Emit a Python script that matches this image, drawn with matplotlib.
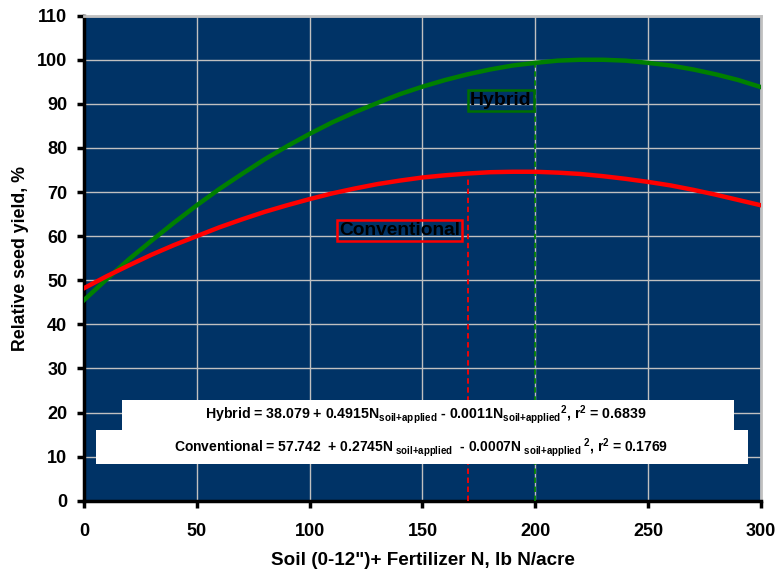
import matplotlib
matplotlib.use("Agg")
import matplotlib.pyplot as plt
from matplotlib.patches import Rectangle

plt.rcParams['font.family'] = ['Liberation Sans', 'DejaVu Sans']
plt.rcParams['font.weight'] = 'bold'
plt.rcParams['mathtext.fontset'] = 'custom'
plt.rcParams['mathtext.rm'] = 'Liberation Sans:bold'
plt.rcParams['mathtext.it'] = 'Liberation Sans:bold'
plt.rcParams['mathtext.bf'] = 'Liberation Sans:bold'
plt.rcParams['mathtext.default'] = 'rm'

# N rate (lb N/acre) and relative yield
nRate = [0, 10, 20, 30, 40, 50, 60, 70, 80, 90, 100, 110, 120, 130, 140, 150,
         160, 170, 180, 190, 200, 210, 220, 230, 240, 250, 260, 270, 280, 290, 300]
hybridYield = [45.5, 50.2, 54.8, 59.0, 63.1, 67.0, 70.7, 74.1, 77.4, 80.4, 83.2,
               85.8, 88.1, 90.2, 92.2, 93.9, 95.4, 96.7, 97.8, 98.7, 99.3, 99.8,
               100.0, 100.0, 99.8, 99.3, 98.7, 97.8, 96.7, 95.4, 93.8]
conventionalYield = [48.2, 50.9, 53.4, 55.8, 58.0, 60.0, 62.0, 63.8, 65.5, 67.0,
                     68.4, 69.7, 70.8, 71.8, 72.6, 73.3, 73.8, 74.2, 74.5, 74.6,
                     74.6, 74.4, 74.1, 73.6, 73.0, 72.3, 71.5, 70.5, 69.4, 68.2, 67.0]

# optimum N rates marked with dashed lines
hybridOptN, hybridOptY = 200, 99.3
convOptN, convOptY = 170, 73

hybridEq = (r"Hybrid = 38.079 + 0.4915N$_{soil{+}applied}$ - 0.0011N$_{soil{+}applied}{}^{2}$"
            r", r$^{2}$ = 0.6839")
convEq = (r"Conventional = 57.742  + 0.2745N$_{\ soil{+}applied}$  - 0.0007N$_{\ soil{+}applied}{}^{\ 2}$"
          r", r$^{2}$ = 0.1769")

fig = plt.figure(figsize=(7.78, 5.74), dpi=100)
ax = fig.add_axes([0.108, 0.1277, 0.870, 0.845])
ax.set_facecolor('#003366')

ax.plot(nRate, hybridYield, color='#008000', lw=3.2, zorder=4)
ax.plot(nRate, conventionalYield, color='#ff0000', lw=3.2, zorder=4)
ax.plot([hybridOptN, hybridOptN], [0, hybridOptY], color='#008000', lw=1.3,
        dashes=(3, 2), zorder=3)
ax.plot([convOptN, convOptN], [0, convOptY], color='#ff0000', lw=1.3,
        dashes=(3, 2), zorder=3)

ax.set_xlim(0, 300)
ax.set_ylim(0, 110)
ax.set_xticks(range(0, 301, 50))
ax.set_yticks(range(0, 111, 10))
ax.grid(True, color='#c0c0c0', lw=1.0, zorder=1)
ax.set_axisbelow(True)

for s in ['left', 'bottom']:
    ax.spines[s].set_color('black')
    ax.spines[s].set_linewidth(2.5)
for s in ['top', 'right']:
    ax.spines[s].set_color('#c0c0c0')
    ax.spines[s].set_linewidth(2)

ax.tick_params(axis='y', length=5, width=2.5, pad=7, labelsize=13)
ax.tick_params(axis='x', length=5, width=2.5, pad=11, labelsize=13)
for lab in ax.get_xticklabels() + ax.get_yticklabels():
    lab.set_fontweight('bold')

ax.set_xlabel('Soil (0-12")+ Fertilizer N, lb N/acre', fontsize=13.6, fontweight='bold', labelpad=9)
ax.set_ylabel('Relative seed yield, %', fontsize=12.8, fontweight='bold', labelpad=6)

# labels on the curves
ax.text(184.7, 90.8, 'Hybrid', fontsize=14, fontweight='bold', color='black',
        ha='center', va='center', zorder=5,
        bbox=dict(boxstyle='square,pad=0.1', fc='none', ec='#007000', lw=1.8))
ax.text(140, 61.2, 'Conventional', fontsize=13.8, fontweight='bold', color='black',
        ha='center', va='center', zorder=5,
        bbox=dict(boxstyle='square,pad=0.1', fc='none', ec='#ff0000', lw=1.8))

# white equation boxes
ax.add_patch(Rectangle((0.0557, 0.1455), 0.904, 0.0615, transform=ax.transAxes,
                       fc='white', ec='none', zorder=5))
ax.add_patch(Rectangle((0.0173, 0.0764), 0.964, 0.0691, transform=ax.transAxes,
                       fc='white', ec='none', zorder=5))
ax.text(0.5055, 0.178, hybridEq, transform=ax.transAxes, fontsize=10.2,
        ha='center', va='center', color='black', zorder=6)
ax.text(0.4985, 0.11, convEq, transform=ax.transAxes, fontsize=10,
        ha='center', va='center', color='black', zorder=6)

fig.savefig('out.png', dpi=100)
